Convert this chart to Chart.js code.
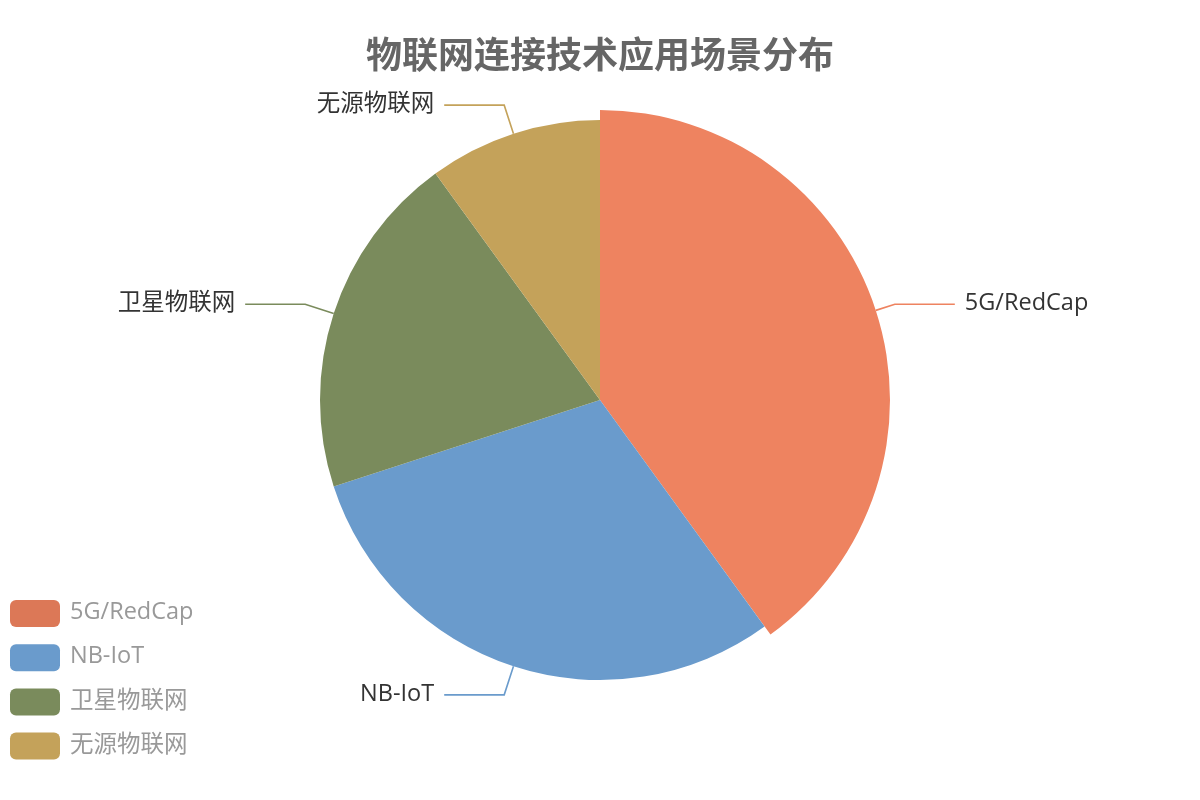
<!DOCTYPE html>
<html lang="zh-CN">
<head>
<meta charset="utf-8">
<title>物联网连接技术应用场景分布</title>
<script src="https://cdn.jsdelivr.net/npm/chart.js@4/dist/chart.umd.min.js"></script>
<style>
  html, body { margin: 0; padding: 0; background: #ffffff; }
  #wrap { width: 1200px; height: 800px; position: relative; }
</style>
</head>
<body>
<div id="wrap"><canvas id="chart" width="1200" height="800"></canvas></div>
<script>
// Categories and their shares (%)
const categories = ['5G/RedCap', 'NB-IoT', '卫星物联网', '无源物联网'];
const shares = [40, 30, 20, 10];

// Palette: legend swatches, slice fills (first slice shown highlighted)
const legendColors = ['#dc7857', '#6a9bcc', '#7a8b5c', '#c4a25a'];
const sliceColors = ['#ee8360', '#6a9bcc', '#7a8b5c', '#c4a25a'];

const TITLE_FONT = '"Noto Sans CJK SC", "Noto Sans", sans-serif';
const TEXT_FONT = '"Open Sans", "Noto Sans CJK SC", sans-serif';
const BASE_RADIUS = 280;
const HIGHLIGHT_INDEX = 0;
const HIGHLIGHT_SCALE = 290 / 280;

// Enlarge the highlighted slice
const highlightPlugin = {
  id: 'highlightSlice',
  afterDatasetsUpdate(chart) {
    const arc = chart.getDatasetMeta(0).data[HIGHLIGHT_INDEX];
    if (arc) arc.outerRadius = BASE_RADIUS * HIGHLIGHT_SCALE;
  }
};

// Outside labels with two-segment leader lines
const outerLabelPlugin = {
  id: 'outerLabels',
  afterDatasetsDraw(chart) {
    const ctx = chart.ctx;
    const arcs = chart.getDatasetMeta(0).data;
    ctx.save();
    ctx.font = '23.5px ' + TEXT_FONT;
    ctx.textBaseline = 'middle';
    arcs.forEach((arc, i) => {
      const mid = (arc.startAngle + arc.endAngle) / 2;
      const cos = Math.cos(mid), sin = Math.sin(mid);
      const r0 = arc.outerRadius;
      const r1 = BASE_RADIUS + 30;
      const x0 = arc.x + r0 * cos, y0 = arc.y + r0 * sin;
      const x1 = arc.x + r1 * cos, y1 = arc.y + r1 * sin;
      const dir = cos >= 0 ? 1 : -1;
      const x2 = x1 + dir * 60;
      ctx.strokeStyle = sliceColors[i];
      ctx.lineWidth = 1.6;
      ctx.beginPath();
      ctx.moveTo(x0, y0);
      ctx.lineTo(x1, y1);
      ctx.lineTo(x2, y1);
      ctx.stroke();
      ctx.fillStyle = '#333333';
      ctx.textAlign = dir > 0 ? 'left' : 'right';
      ctx.fillText(chart.data.labels[i], x2 + dir * 10, y1 - 1);
    });
    ctx.restore();
  }
};

// Vertical legend in the lower-left corner
const legendPlugin = {
  id: 'cornerLegend',
  afterDraw(chart) {
    const ctx = chart.ctx;
    ctx.save();
    ctx.font = '23.5px ' + TEXT_FONT;
    ctx.textBaseline = 'middle';
    ctx.textAlign = 'left';
    chart.data.labels.forEach((label, i) => {
      const cy = 613.5 + i * 44.2;
      ctx.fillStyle = legendColors[i];
      ctx.beginPath();
      ctx.roundRect(10, cy - 13.5, 50, 27, 6);
      ctx.fill();
      ctx.fillStyle = '#999999';
      ctx.fillText(label, 70, cy - 1);
    });
    ctx.restore();
  }
};

const titleBlock = 33 + 36 * 1.2;

new Chart(document.getElementById('chart'), {
  type: 'pie',
  data: {
    labels: categories,
    datasets: [{
      data: shares,
      backgroundColor: sliceColors,
      borderWidth: 0,
      radius: BASE_RADIUS
    }]
  },
  options: {
    responsive: false,
    animation: false,
    events: [],
    layout: { padding: { top: 0, bottom: titleBlock, left: 0, right: 0 } },
    plugins: {
      legend: { display: false },
      tooltip: { enabled: false },
      title: {
        display: true,
        text: '物联网连接技术应用场景分布',
        color: '#666666',
        font: { family: TITLE_FONT, size: 36, weight: 'bold', lineHeight: 1.2 },
        padding: { top: 33, bottom: 0 }
      }
    }
  },
  plugins: [highlightPlugin, outerLabelPlugin, legendPlugin]
});
</script>
</body>
</html>
